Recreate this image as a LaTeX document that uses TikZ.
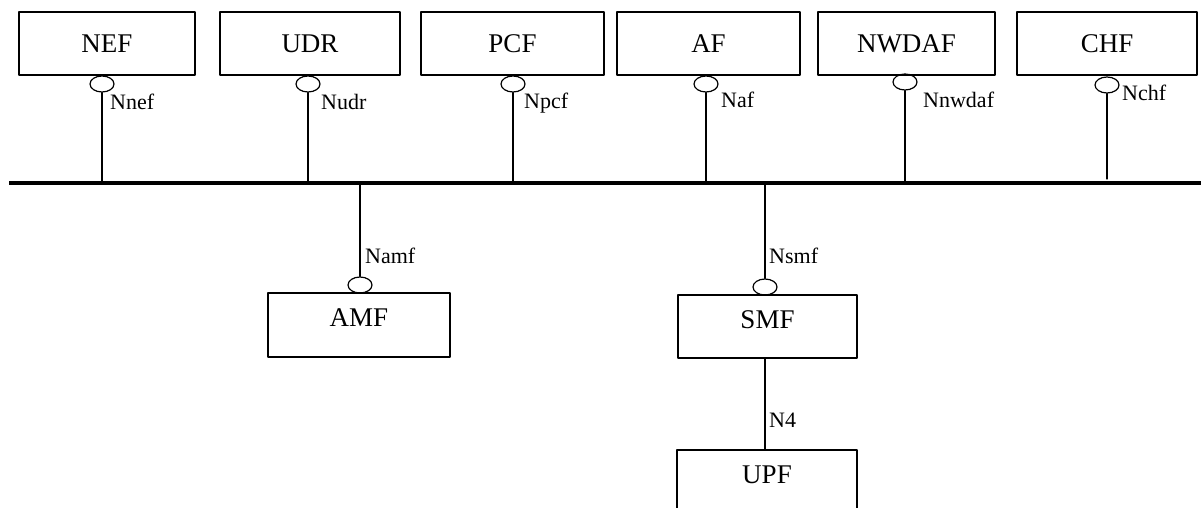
\documentclass[tikz,border=0pt]{standalone}
\usepackage{fontspec}
\setmainfont{Liberation Serif}
\usetikzlibrary{shapes.geometric}

\tikzset{
  nfbox/.style={draw,line width=1.3pt,minimum width=180pt,minimum height=63pt,inner sep=0pt,font=\fontsize{27}{31}\selectfont},
  nfboxlow/.style={nfbox,text depth=14pt},
  port/.style={draw,ellipse,line width=1.2pt,minimum width=24pt,minimum height=16pt,inner sep=0pt},
  lbl/.style={right,inner sep=0pt,font=\fontsize{22}{25}\selectfont}
}

\begin{document}
\begin{tikzpicture}[line cap=round,line join=round,x=1pt,y=-1pt]
\useasboundingbox (0,0) rectangle (1201,508);
% service bus
\coordinate (busl) at (9,183);
\coordinate (busr) at (1201,183);
\draw [line width=3.5pt,line cap=butt] (busl)--(busr);
% upper functions
\node [nfbox,minimum width=176pt] (nef) at (107,43.5) {NEF};
\node [nfbox] (udr) at (310,43.5) {UDR};
\node [nfbox,minimum width=183pt] (pcf) at (512.5,43.5) {PCF};
\node [nfbox,minimum width=183pt] (af) at (708.5,43.5) {AF};
\node [nfbox,minimum width=177pt] (nwdaf) at (906.5,43.5) {NWDAF};
\node [nfbox] (chf) at (1107,43.5) {CHF};
\node [port] (nefp) at (102,84) {};
\node [port] (udrp) at (308,84) {};
\node [port] (pcfp) at (513,84) {};
\node [port] (afp) at (706,84) {};
\node [port] (nwdafp) at (905,82) {};
\node [port] (chfp) at (1107,85) {};
\draw [line width=1.3pt] (nefp.south)--(nefp.south |- busl);
\draw [line width=1.3pt] (udrp.south)--(udrp.south |- busl);
\draw [line width=1.3pt] (pcfp.south)--(pcfp.south |- busl);
\draw [line width=1.3pt] (afp.south)--(afp.south |- busl);
\draw [line width=1.3pt] (nwdafp.south)--(nwdafp.south |- busl);
\draw [line width=1.3pt] (chfp.south)--([yshift=4pt]chfp.south |- busl);
\node [lbl] (nefl) at (110,102) {Nnef};
\node [lbl] (udrl) at (321,102) {Nudr};
\node [lbl] (pcfl) at (524,103) {Npcf};
\node [lbl] (afl) at (721,100) {Naf};
\node [lbl] (nwdafl) at (923,100) {Nnwdaf};
\node [lbl] (chfl) at (1122,93) {Nchf};
% lower functions
\node [nfboxlow,minimum width=182pt,minimum height=64pt] (amf) at (359,325) {AMF};
\node [nfboxlow,minimum width=179pt] (smf) at (767.5,326.5) {SMF};
\node [nfboxlow] (upf) at (767,481.5) {UPF};
\node [port] (amfp) at (360,285) {};
\node [port] (smfp) at (765,287) {};
\draw [line width=1.3pt] (amfp.north)--(amfp.north |- busl);
\draw [line width=1.3pt] (smfp.north)--(smfp.north |- busl);
\draw [line width=1.3pt] (smf.south -| smfp)--(upf.north -| smfp);
\node [lbl] (amfl) at (365,256) {Namf};
\node [lbl] (smfl) at (769,256) {Nsmf};
\node [lbl] (n4l) at (769,420) {N4};
\end{tikzpicture}
\end{document}
